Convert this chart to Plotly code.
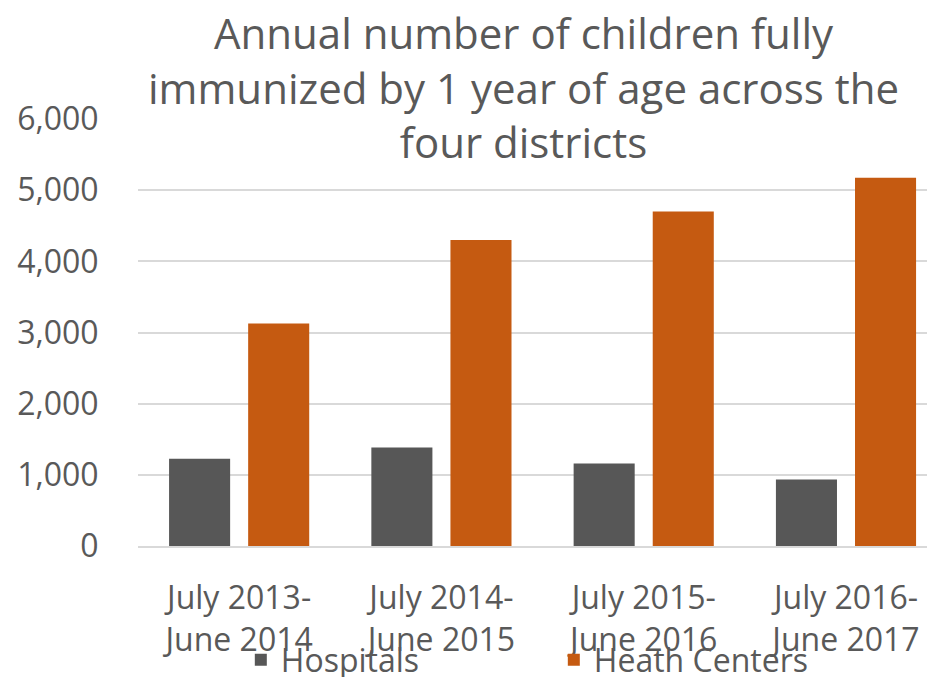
import plotly.graph_objects as go

categories = ["July 2013-<br>June 2014", "July 2014-<br>June 2015",
              "July 2015-<br>June 2016", "July 2016-<br>June 2017"]
hospitals = [1225, 1385, 1160, 935]
health_centers = [3125, 4300, 4700, 5175]
y_ticks = [0, 1000, 2000, 3000, 4000, 5000, 6000]
y_tick_labels = ["0", "1,000", "2,000", "3,000", "4,000", "5,000", "6,000"]

GRAY_TEXT = "#595959"
FONT = "Open Sans"

fig = go.Figure()
fig.add_trace(go.Bar(x=categories, y=hospitals, name="Hospitals",
                     marker=dict(color="#575757", line=dict(width=0))))
fig.add_trace(go.Bar(x=categories, y=health_centers, name="Heath Centers",
                     marker=dict(color="#C55A11", line=dict(width=0))))

fig.update_layout(
    width=927, height=669,
    margin=dict(l=130, r=0, t=111, b=131, autoexpand=False),
    paper_bgcolor="white", plot_bgcolor="white",
    barmode="group", bargap=0.218, bargroupgap=0.228,
    font=dict(family=FONT, color=GRAY_TEXT, size=32),
    showlegend=True,
    legend=dict(orientation="h", x=0.129, y=-0.267, xanchor="left", yanchor="middle",
                font=dict(size=32, color=GRAY_TEXT), bgcolor="rgba(0,0,0,0)",
                entrywidth=268, entrywidthmode="pixels", traceorder="normal"),
    annotations=[dict(
        text="Annual number of children fully<br>immunized by 1 year of age across the<br>four districts",
        xref="paper", yref="paper", x=0.484, y=1.0, yshift=117,
        xanchor="center", yanchor="top", showarrow=False,
        font=dict(size=42, color=GRAY_TEXT, family=FONT), align="center")],
)

fig.update_xaxes(showline=True, linecolor="#D9D9D9", linewidth=1.5,
                 range=[-0.5, 3.44],
                 ticks="outside", ticklen=23, tickcolor="rgba(0,0,0,0)",
                 tickfont=dict(size=32, color=GRAY_TEXT), showgrid=False,
                 automargin=False)
fig.update_yaxes(range=[0, 6000], tickvals=y_ticks, ticktext=y_tick_labels,
                 showgrid=True, gridcolor="#D9D9D9", gridwidth=1.5,
                 zeroline=False, showline=False,
                 ticks="outside", ticklen=32, tickcolor="rgba(0,0,0,0)",
                 tickfont=dict(size=32, color=GRAY_TEXT), automargin=False)

fig.write_html("out.html")
